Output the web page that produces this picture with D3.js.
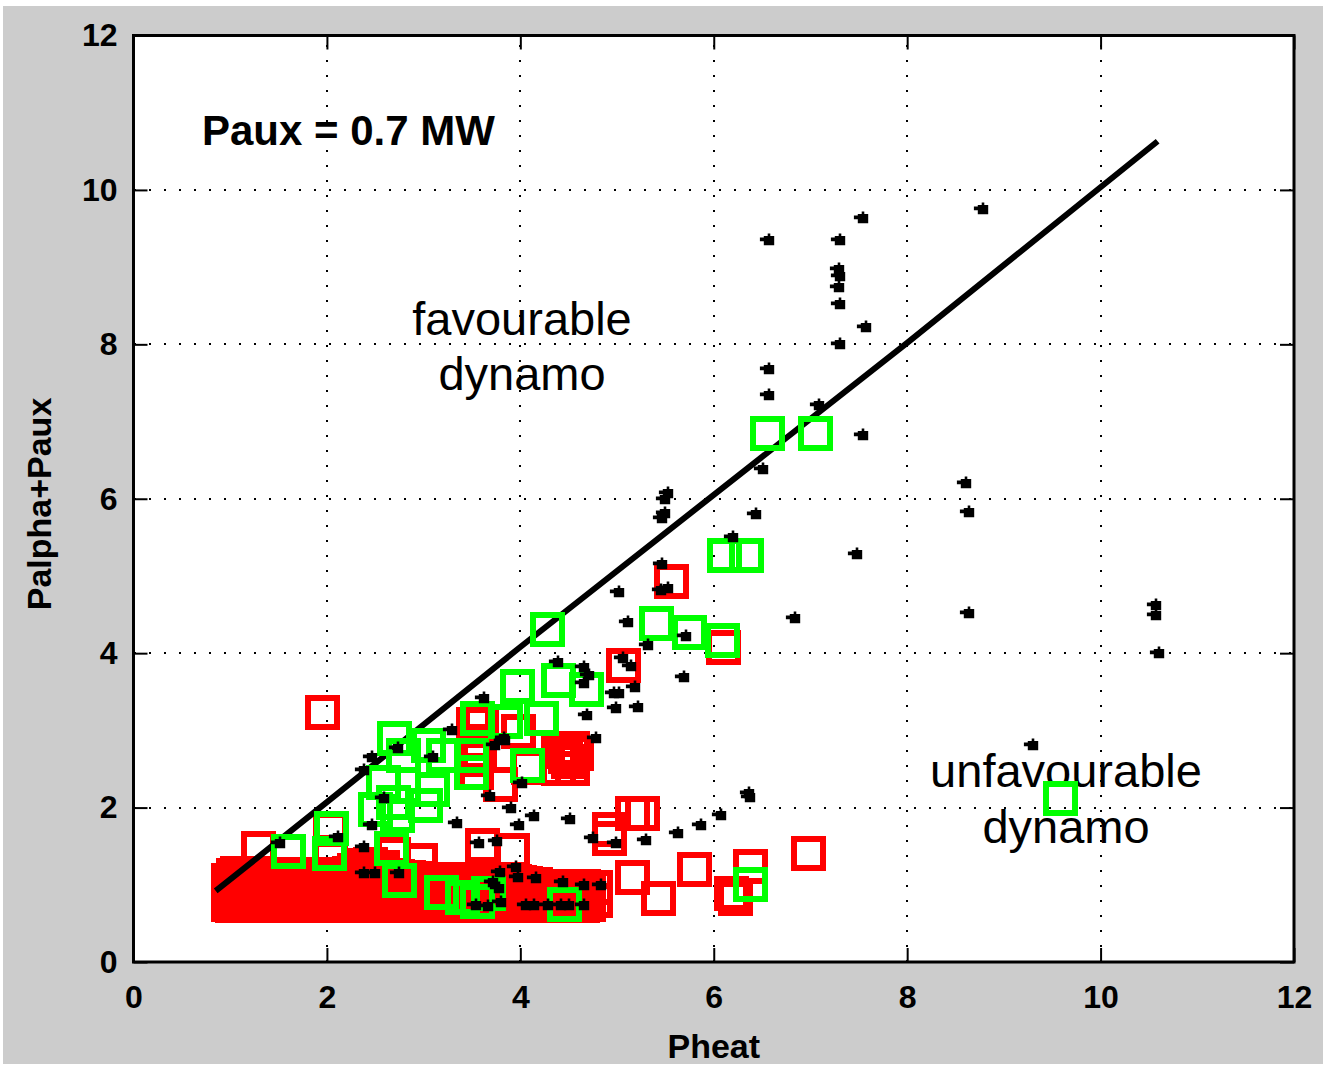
<!DOCTYPE html>
<html>
<head>
<meta charset="utf-8">
<script src="https://cdn.jsdelivr.net/npm/d3@7"></script>
<style>
  html, body { margin: 0; padding: 0; background: #ffffff; }
  svg { display: block; }
  text { font-family: "Liberation Sans", Arial, sans-serif; }
</style>
</head>
<body>
<svg id="chart" width="1326" height="1067"></svg>
<script>
// ---- axis ticks ----
const xTicks = [0, 2, 4, 6, 8, 10, 12];
const yTicks = [0, 2, 4, 6, 8, 10, 12];
const gridTicks = [2, 4, 6, 8, 10];

// ---- boundary line Palpha+Paux = Pheat ----
const boundaryLine = [[0.85, 0.92], [2.0, 2.07], [4.0, 4.08], [6.0, 6.05], [8.0, 8.02], [10.59, 10.63]];

// ---- red squares: dense low-power band, lower row ----
const redLowRow = [
  [0.98,0.74],[1.02,0.73],[1.07,0.74],[1.12,0.73],[1.16,0.74],[1.21,0.73],[1.26,0.73],[1.30,0.75],
  [1.35,0.73],[1.41,0.73],[1.45,0.74],[1.50,0.73],[1.55,0.73],[1.60,0.74],[1.64,0.73],[1.69,0.73],
  [1.75,0.75],[1.79,0.73],[1.84,0.73],[1.89,0.74],[1.93,0.73],[1.98,0.73],[2.04,0.75],[2.08,0.73],
  [2.13,0.73],[2.18,0.74],[2.22,0.73],[2.27,0.73],[2.33,0.73],[2.37,0.75],[2.42,0.73],[2.47,0.73],
  [2.51,0.74],[2.56,0.73],[2.62,0.73],[2.66,0.74],[2.71,0.73],[2.76,0.73],[2.80,0.75],[2.85,0.73],
  [2.91,0.73],[2.95,0.73],[3.00,0.74],[3.05,0.73],[3.09,0.73],[3.14,0.73],[3.20,0.75],[3.24,0.73],
  [3.29,0.73],[3.34,0.74],[3.38,0.73],[3.43,0.73],[3.49,0.73],[3.53,0.74],[3.58,0.73],[3.63,0.75],
  [3.67,0.73],[3.72,0.73],[3.78,0.73],[3.82,0.74],[3.87,0.73],[3.92,0.73],[3.96,0.73],[4.01,0.75],
  [4.07,0.73],[4.11,0.73],[4.16,0.73],[4.21,0.74],[4.25,0.73],[4.30,0.73],[4.36,0.73],[4.40,0.75],
  [4.45,0.73],[4.50,0.73],[4.54,0.73],[4.59,0.74],[4.64,0.73],[4.70,0.74]
];

// ---- red squares: dense low-power band, upper row ----
const redHighRow = [
  [0.98,1.05],[1.03,1.12],[1.08,1.15],[1.14,1.14],[1.19,1.13],[1.24,1.15],[1.30,1.10],[1.35,1.12],
  [1.41,1.11],[1.46,1.13],[1.52,1.10],[1.57,1.12],[1.63,1.11],[1.68,1.13],[1.74,1.10],[1.79,1.12],
  [1.85,1.11],[1.90,1.13],[1.96,1.10],[2.01,1.12],[2.07,1.11],[2.12,1.13],[2.18,1.12],[2.23,1.14],
  [2.29,1.18],[2.34,1.22],[2.40,1.20],[2.45,1.18],[2.51,1.16],[2.56,1.14],[2.62,1.12],[2.67,1.10],
  [2.73,1.11],[2.78,1.09],[2.84,1.10],[2.89,1.08],[2.95,1.08],[3.00,1.07],[3.06,1.06],[3.11,1.07],
  [3.17,1.06],[3.22,1.06],[3.28,1.07],[3.33,1.06],[3.39,1.05],[3.44,1.06],[3.50,1.06],[3.55,1.05],
  [3.61,1.06],[3.66,1.05],[3.72,1.06],[3.77,1.05],[3.83,1.04],[3.88,1.05],[3.94,1.04],[3.99,1.03],
  [4.05,1.02],[4.10,1.01],[4.16,1.00],[4.21,0.98],[4.27,0.97],[4.32,0.98],[4.38,0.97],[4.43,0.97],
  [4.49,0.98],[4.54,0.97],[4.60,0.97],[4.65,0.98],[4.71,0.97],[4.78,0.97],[4.78,0.80]
];

// ---- red squares: scattered ----
const redScatter = [
  [1.29,1.47],[1.95,3.23],[2.04,1.71],[2.04,1.42],[2.35,1.25],[2.45,1.26],[2.57,1.22],[2.69,1.39],
  [2.97,1.32],[3.61,1.51],[3.92,1.45],[3.52,3.07],[3.60,3.12],[3.52,2.85],[3.53,2.62],[3.55,2.45],
  [3.58,2.72],[3.80,2.30],[3.98,2.98],[4.08,2.52],[4.39,2.77],[4.54,2.77],[4.47,2.66],[4.39,2.51],
  [4.54,2.51],[4.43,2.72],[4.50,2.60],[4.58,2.70],[4.92,1.72],[4.92,1.60],[5.16,1.92],[5.26,1.92],
  [5.16,1.09],[5.43,0.82],[5.80,1.20],[6.18,0.89],[6.23,0.82],[6.38,1.24],[6.98,1.40],[5.56,4.93],
  [5.07,3.84],[6.10,4.07]
];

// ---- green squares ----
const greenSquares = [
  [6.56,6.84],[7.05,6.84],[6.11,5.27],[6.34,5.27],[4.28,4.31],[5.41,4.39],[5.75,4.27],[6.09,4.16],
  [3.97,3.57],[4.39,3.65],[4.68,3.53],[4.22,3.16],[3.56,3.15],[3.85,3.11],[2.70,2.89],[2.79,2.68],
  [3.05,2.81],[3.21,2.68],[3.50,2.68],[3.50,2.46],[4.07,2.54],[2.59,2.33],[3.09,2.23],[2.50,1.97],
  [2.69,2.07],[3.02,2.03],[2.73,1.90],[2.05,1.73],[2.03,1.40],[1.60,1.43],[2.67,1.47],[2.75,1.05],
  [3.19,0.90],[3.40,0.83],[3.56,0.78],[3.67,0.89],[4.46,0.74],[6.38,1.01],[9.59,2.12]
];

// ---- black points ----
const blackPoints = [
  [7.54,9.63],[6.57,9.35],[7.31,9.35],[7.30,8.98],[7.31,8.89],[7.29,8.74],[7.31,8.52],[7.57,8.23],
  [7.31,8.01],[6.57,7.68],[6.57,7.35],[7.09,7.21],[7.54,6.83],[6.51,6.39],[8.78,9.75],[8.61,6.21],
  [8.64,5.83],[8.64,4.52],[10.57,4.62],[10.57,4.50],[10.60,4.00],[9.30,2.81],[7.48,5.29],[6.44,5.80],
  [6.20,5.50],[6.84,4.45],[5.53,6.07],[5.50,6.00],[5.50,5.81],[5.47,5.75],[5.47,5.15],[5.45,4.82],
  [5.53,4.84],[5.02,4.79],[5.11,4.40],[5.71,4.22],[5.32,4.10],[5.06,3.94],[5.14,3.84],[5.19,3.56],
  [4.97,3.48],[5.02,3.48],[4.99,3.29],[5.22,3.30],[5.69,3.69],[4.69,3.20],[4.39,3.88],[4.66,3.82],
  [4.71,3.72],[4.66,3.62],[4.78,2.90],[3.83,2.90],[6.36,2.19],[6.38,2.14],[6.07,1.90],[5.87,1.77],
  [5.63,1.67],[5.30,1.58],[4.99,1.54],[4.75,1.61],[4.51,1.85],[4.14,1.89],[3.99,1.77],[3.76,1.57],
  [3.57,1.54],[3.35,1.80],[3.96,1.23],[3.98,1.10],[3.79,1.17],[3.72,1.04],[3.78,0.96],[4.16,1.09],
  [4.44,1.04],[4.66,1.00],[4.83,1.00],[3.54,0.74],[3.67,0.72],[3.80,0.78],[4.06,0.74],[4.14,0.74],
  [4.29,0.74],[4.42,0.74],[4.50,0.74],[4.66,0.74],[2.11,1.62],[2.38,1.49],[2.47,1.77],[2.38,1.15],
  [2.50,1.15],[2.75,1.15],[1.52,1.54],[3.62,3.42],[3.29,3.00],[3.84,2.87],[3.74,2.81],[3.10,2.65],
  [2.47,2.65],[2.38,2.49],[2.59,2.12],[3.69,2.15],[4.02,2.32],[3.90,2.00],[2.74,2.77]
];

// ---- annotations ----
const powerLabel = "Paux = 0.7 MW";
const upperRegion = ["favourable", "dynamo"];
const lowerRegion = ["unfavourable", "dynamo"];

const svg = d3.select("#chart");
const W = 1326, H = 1067;

// figure background
svg.append("rect").attr("x", 0).attr("y", 0).attr("width", W).attr("height", H).attr("fill", "#ffffff");
svg.append("rect").attr("x", 3).attr("y", 6).attr("width", W - 6).attr("height", H - 9).attr("fill", "#cccccc");

const x = d3.scaleLinear().domain([0, 12]).range([133.5, 1294]);
const y = d3.scaleLinear().domain([0, 12]).range([962, 35.5]);
const [x0, x1] = x.range();
const [y0, y1] = y.range();

// plot area
svg.append("rect").attr("x", x0).attr("y", y1).attr("width", x1 - x0).attr("height", y0 - y1).attr("fill", "#ffffff");

// dotted grid
const grid = svg.append("g").attr("stroke", "#000").attr("stroke-width", 2).attr("stroke-dasharray", "2,13")
  .attr("shape-rendering", "crispEdges");
grid.selectAll("line.gx").data(gridTicks).join("line")
  .attr("x1", d => Math.round(x(d))).attr("x2", d => Math.round(x(d)))
  .attr("y1", y0).attr("y2", y1);
grid.selectAll("line.gy").data(gridTicks).join("line")
  .attr("y1", d => Math.round(y(d))).attr("y2", d => Math.round(y(d)))
  .attr("x1", x0).attr("x2", x1);

// region annotations
const regionText = svg.append("g").attr("fill", "#000").attr("font-size", 47).attr("text-anchor", "middle");
regionText.selectAll("text.up").data(upperRegion).join("text")
  .attr("x", 522).attr("y", (d, i) => 335 + i * 55).text(d => d);
regionText.selectAll("text.lo").data(lowerRegion).join("text")
  .attr("x", 1066).attr("y", (d, i) => 787 + i * 56).text(d => d);

svg.append("text").attr("x", 202).attr("y", 145).attr("font-size", 42).attr("font-weight", "bold")
  .attr("fill", "#000").text(powerLabel);

// square marker
const side = 29;
function drawSquares(data, color) {
  svg.append("g").selectAll("rect").data(data).join("rect")
    .attr("x", d => Math.round(x(d[0]) - side / 2)).attr("y", d => Math.round(y(d[1]) - side / 2))
    .attr("width", side).attr("height", side)
    .attr("fill", "none").attr("stroke", color).attr("stroke-width", 6)
    .attr("shape-rendering", "crispEdges");
}

drawSquares(redLowRow, "#ff0000");
drawSquares(redHighRow, "#ff0000");
drawSquares(redScatter, "#ff0000");

// boundary line
svg.append("path").datum(boundaryLine)
  .attr("d", d3.line().x(d => x(d[0])).y(d => y(d[1])))
  .attr("fill", "none").attr("stroke", "#000").attr("stroke-width", 6);

drawSquares(greenSquares, "#00ff00");

// black point markers
const dotPath = "M-1,-5h2v2h3v7h-8v-3h-3v-3h3v-1h3z";
svg.append("g").selectAll("path").data(blackPoints).join("path")
  .attr("d", dotPath)
  .attr("transform", d => `translate(${Math.round(x(d[0]))},${Math.round(y(d[1]))}) scale(1.3)`)
  .attr("fill", "#000");

// axes (ticks pointing inward on all four sides)
const tickLen = 14;
const fmt = d => String(d);
const axB = svg.append("g").attr("transform", `translate(0,${y0})`)
  .call(d3.axisBottom(x).tickValues(xTicks).tickSize(-tickLen).tickPadding(23).tickFormat(fmt));
const axL = svg.append("g").attr("transform", `translate(${x0},0)`)
  .call(d3.axisLeft(y).tickValues(yTicks).tickSize(-tickLen).tickPadding(16).tickFormat(fmt));
const axT = svg.append("g").attr("transform", `translate(0,${y1})`)
  .call(d3.axisTop(x).tickValues(xTicks).tickSize(-tickLen).tickFormat(""));
const axR = svg.append("g").attr("transform", `translate(${x1},0)`)
  .call(d3.axisRight(y).tickValues(yTicks).tickSize(-tickLen).tickFormat(""));
[axB, axL, axT, axR].forEach(g => {
  g.select(".domain").remove();
  g.selectAll(".tick line").attr("stroke", "#000").attr("stroke-width", 2);
  g.selectAll(".tick text").attr("font-size", 32).attr("font-weight", "bold")
    .attr("font-family", "'Liberation Sans', Arial, sans-serif").attr("fill", "#000");
});

// axes box
svg.append("rect").attr("x", x0).attr("y", y1).attr("width", x1 - x0).attr("height", y0 - y1)
  .attr("fill", "none").attr("stroke", "#000").attr("stroke-width", 3);

// axis titles
svg.append("text").attr("x", (x0 + x1) / 2).attr("y", 1058).attr("text-anchor", "middle")
  .attr("font-size", 34).attr("font-weight", "bold").attr("fill", "#000").text("Pheat");
svg.append("text").attr("transform", "translate(51,504) rotate(-90)").attr("text-anchor", "middle")
  .attr("font-size", 34).attr("font-weight", "bold").attr("fill", "#000").text("Palpha+Paux");
</script>
</body>
</html>
